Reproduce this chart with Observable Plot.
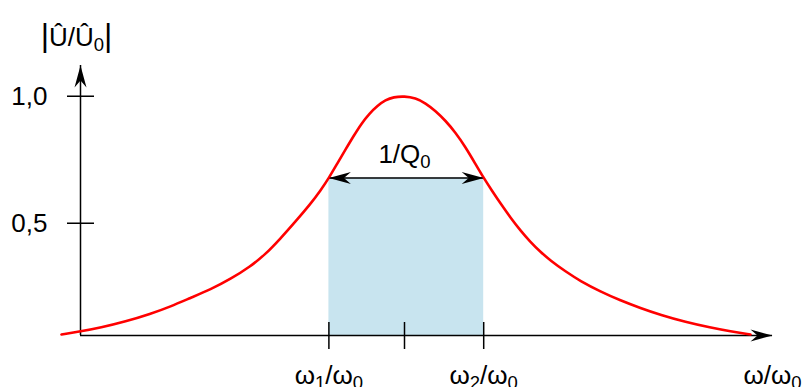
<!DOCTYPE html>
<html>
<head>
<meta charset="utf-8">
<script src="https://cdn.jsdelivr.net/npm/d3@7"></script>
<script src="https://cdn.jsdelivr.net/npm/@observablehq/plot@0.6"></script>
<style>
  html, body { margin: 0; padding: 0; background: #fff; }
</style>
</head>
<body>
<div id="chart"></div>
<script>
// Resonance curve: normalized amplitude against normalized frequency
const omega = [0.1425, 0.19, 0.24, 0.3025, 0.365, 0.415, 0.465, 0.515, 0.565, 0.615, 0.6525, 0.69, 0.7275, 0.765,
               0.79, 0.811, 0.8325, 0.8525, 0.8725, 0.8925, 0.9125, 0.9325, 0.9525, 0.9725, 1.0,
               1.0275, 1.0525, 1.0775, 1.1025, 1.1275, 1.1525, 1.1775, 1.198, 1.22, 1.24, 1.265, 1.29, 1.315,
               1.34, 1.365, 1.4025, 1.44, 1.49, 1.54, 1.59, 1.64, 1.7025, 1.765, 1.815, 1.865];
const amplitude = [0.062, 0.074, 0.089, 0.113, 0.143, 0.172, 0.206, 0.239, 0.280, 0.330, 0.378, 0.440, 0.507, 0.576,
                   0.629, 0.678, 0.737, 0.790, 0.843, 0.893, 0.932, 0.963, 0.985, 0.997, 1.0,
                   0.993, 0.973, 0.942, 0.904, 0.857, 0.800, 0.733, 0.678, 0.625, 0.578, 0.522, 0.471, 0.426,
                   0.387, 0.353, 0.310, 0.272, 0.231, 0.196, 0.166, 0.139, 0.111, 0.089, 0.074, 0.062];

// Bandwidth (half-power band)
const omega1 = 0.811;
const omega2 = 1.198;
const bandLevel = 0.678;

// Axis extents and ticks
const xDomain = [0.19, 1.92];
const yDomain = [0.058, 1.121];
const yTicks = [0.5, 1.0];
const xTicks = [omega1, 1.0, omega2];
const xTickLabels = ["ω_1/ω_0", "", "ω_2/ω_0"];

// Labels ("_" marks a subscript character)
const yLabel = "|Û/Û_0|";
const xLabel = "ω/ω_0";
const bandLabel = "1/Q_0";

const FONT = 26, SUB_SIZE = 18.5, SUB_SHIFT = 5, BAR_SIZE = 32;

const curve = omega.map((w, i) => ({w, a: amplitude[i]}));
const xLabelOf = new Map(xTicks.map((t, i) => [t, xTickLabels[i]]));

// Filled "stealth" arrowhead with its tip at the origin, pointing right
const stealth = {
  draw(ctx) {
    const L = 22, W = 6, N = 15;
    ctx.moveTo(0, 0);
    ctx.lineTo(-L, -W);
    ctx.lineTo(-N, 0);
    ctx.lineTo(-L, W);
    ctx.closePath();
  }
};
const arrowHeads = [
  {x: xDomain[0], y: yDomain[1], angle: -90},
  {x: xDomain[1], y: yDomain[0], angle: 0},
  {x: omega1, y: bandLevel, angle: 180},
  {x: omega2, y: bandLevel, angle: 0}
];

const chart = Plot.plot({
  width: 806,
  height: 387,
  marginLeft: 80,
  marginRight: 34,
  marginTop: 65,
  marginBottom: 52,
  x: {domain: xDomain},
  y: {domain: yDomain},
  style: {fontFamily: "'Liberation Sans', Arial, sans-serif", fontSize: FONT + "px", color: "#000", background: "#fff"},
  marks: [
    Plot.rect([{x1: omega1, x2: omega2, y1: yDomain[0], y2: bandLevel}],
      {x1: "x1", x2: "x2", y1: "y1", y2: "y2", fill: "#c8e4ef"}),
    Plot.ruleX([xDomain[0]], {y1: yDomain[0], y2: yDomain[1], stroke: "#000", strokeWidth: 1.5}),
    Plot.ruleY([yDomain[0]], {x1: xDomain[0], x2: xDomain[1], stroke: "#000", strokeWidth: 1.5}),
    Plot.axisY(yTicks, {anchor: "left", tickSize: 27, dx: 14, tickPadding: 20, strokeWidth: 1.5,
      tickFormat: d => d.toFixed(1).replace(".", ","), fontSize: FONT, label: null}),
    Plot.axisX(xTicks, {anchor: "bottom", tickSize: 27, dy: -13, tickPadding: 16, strokeWidth: 1.5,
      tickFormat: d => xLabelOf.get(d), fontSize: FONT, label: null}),
    Plot.axisX([xDomain[1]], {anchor: "bottom", tickSize: 0, tickPadding: 30,
      tickFormat: () => xLabel, fontSize: FONT, label: null}),
    Plot.link([{x1: omega1, x2: omega2, y: bandLevel}],
      {x1: "x1", x2: "x2", y1: "y", y2: "y", stroke: "#000", strokeWidth: 1.5}),
    Plot.line(curve, {x: "w", y: "a", stroke: "#ff0000", strokeWidth: 2.6, curve: "basis"}),
    Plot.dot(arrowHeads, {x: "x", y: "y", rotate: "angle", symbol: stealth, fill: "#000", stroke: "none"}),
    Plot.text([{x: 1.0, y: bandLevel, t: bandLabel}], {x: "x", y: "y", text: "t", dy: -23, fontSize: FONT}),
    Plot.text([{x: xDomain[0], y: yDomain[1], t: yLabel}], {x: "x", y: "y", text: "t", dx: -4, dy: -28, fontSize: FONT})
  ]
});

// Render "_x" as a lowered, smaller subscript and "|" as a taller bar
function richText(svg) {
  const ns = "http://www.w3.org/2000/svg";
  svg.querySelectorAll("text, tspan").forEach(el => {
    if (el.children.length) return;
    const s = el.textContent;
    if (!/[_|]/.test(s)) return;
    const segs = [];
    for (let i = 0; i < s.length; i++) {
      const c = s[i];
      if (c === "_") segs.push({t: s[++i], kind: "sub"});
      else if (c === "|") segs.push({t: c, kind: "bar"});
      else if (segs.length && segs[segs.length - 1].kind === "n") segs[segs.length - 1].t += c;
      else segs.push({t: c, kind: "n"});
    }
    el.textContent = "";
    let shift = 0;
    for (const seg of segs) {
      const ts = document.createElementNS(ns, "tspan");
      const target = seg.kind === "sub" ? SUB_SHIFT : 0;
      if (target !== shift) { ts.setAttribute("dy", target - shift); shift = target; }
      if (seg.kind === "sub") ts.setAttribute("font-size", SUB_SIZE);
      if (seg.kind === "bar") ts.setAttribute("font-size", BAR_SIZE);
      ts.textContent = seg.t;
      el.appendChild(ts);
    }
  });
}
richText(chart);
document.getElementById("chart").appendChild(chart);
</script>
</body>
</html>
